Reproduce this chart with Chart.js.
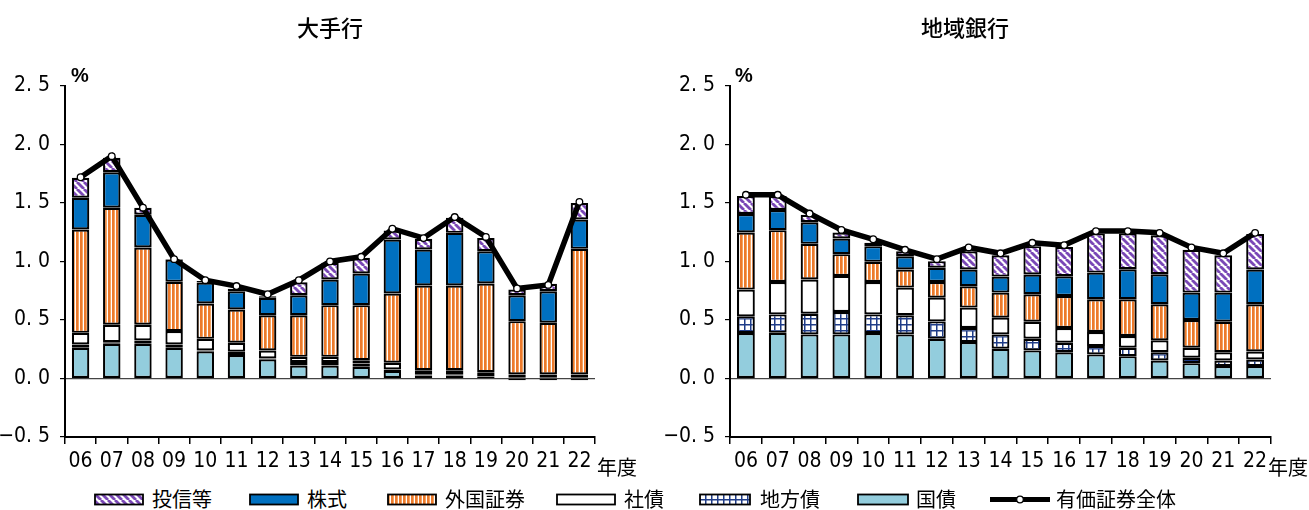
<!DOCTYPE html>
<html>
<head>
<meta charset="utf-8">
<script src="https://cdn.jsdelivr.net/npm/chart.js@4/dist/chart.umd.min.js"></script>
<style>
  body { margin: 0; background: #fff; width: 1309px; height: 510px; position: relative; overflow: hidden;
         font-family: 'Noto Sans CJK JP', sans-serif; color: #000; }
  canvas.chart { position: absolute; top: 0; }
  .title { position: absolute; top: 10px; font-size: 22px; font-weight: 500; transform: translateX(-50%); white-space: nowrap; }
  .unit { position: absolute; top: 64px; font-size: 20px; font-weight: bold; font-family: 'Liberation Sans', Arial, sans-serif; }
  .fy { position: absolute; top: 452px; font-size: 20px; }
  .leg { position: absolute; top: 486px; font-size: 20px; line-height: 26px; white-space: nowrap; }
  .sw { position: absolute; top: 493px; }
</style>
</head>
<body>
<canvas id="major" class="chart" width="650" height="480" style="left:0"></canvas>
<canvas id="regional" class="chart" width="649" height="480" style="left:660px"></canvas>
<div class="title" style="left:330px">大手行</div>
<div class="title" style="left:965px">地域銀行</div>
<div class="unit" style="left:71px">%</div>
<div class="unit" style="left:735px">%</div>
<div class="fy" style="left:597px">年度</div>
<div class="fy" style="left:1268px">年度</div>
<div id="legend"></div>

<script>
// fiscal years and axis ticks
const YEARS = ['06', '07', '08', '09', '10', '11', '12', '13', '14', '15', '16', '17', '18', '19', '20', '21', '22'];
const Y_TICKS = [-0.5, 0, 0.5, 1.0, 1.5, 2.0, 2.5];
const SERIES_NAMES = ['投信等', '株式', '外国証券', '社債', '地方債', '国債', '有価証券全体'];

// 大手行 (%)
const MAJOR_FUNDS   = [0.170, 0.123, 0.059, 0.005, 0.012, 0.022, 0.014, 0.111, 0.143, 0.134, 0.077, 0.091, 0.128, 0.112, 0.048, 0.063, 0.141];
const MAJOR_STOCKS  = [0.272, 0.304, 0.280, 0.191, 0.180, 0.155, 0.149, 0.171, 0.219, 0.270, 0.462, 0.308, 0.450, 0.276, 0.222, 0.270, 0.251];
const MAJOR_FOREIGN = [0.883, 0.999, 0.660, 0.421, 0.302, 0.285, 0.302, 0.356, 0.442, 0.470, 0.592, 0.724, 0.724, 0.758, 0.456, 0.442, 1.074];
const MAJOR_CORP    = [0.100, 0.150, 0.135, 0.115, 0.100, 0.077, 0.068, 0.045, 0.045, 0.029, 0.057, 0.034, 0.034, 0.037, 0.028, 0.028, 0.028];
const MAJOR_LOCAL   = [0.028, 0.014, 0.029, 0.028, 0.006, 0.028, 0.006, 0.029, 0.029, 0.028, 0.012, 0.012, 0.012, 0.012, 0.006, 0.006, 0.006];
const MAJOR_JGB     = [0.262, 0.296, 0.296, 0.262, 0.233, 0.200, 0.165, 0.111, 0.111, 0.100, 0.065, 0.025, 0.025, 0.005, -0.015, -0.015, -0.015];
const MAJOR_TOTAL   = [1.72, 1.90, 1.46, 1.02, 0.84, 0.79, 0.72, 0.84, 1.00, 1.04, 1.28, 1.20, 1.38, 1.21, 0.77, 0.80, 1.51];

// 地域銀行 (%)
const REGIONAL_FUNDS   = [0.154, 0.120, 0.064, 0.051, 0.029, 0.043, 0.057, 0.157, 0.183, 0.242, 0.251, 0.335, 0.306, 0.334, 0.366, 0.320, 0.303];
const REGIONAL_STOCKS  = [0.158, 0.172, 0.185, 0.134, 0.134, 0.114, 0.121, 0.143, 0.137, 0.169, 0.169, 0.228, 0.257, 0.257, 0.234, 0.249, 0.297];
const REGIONAL_FOREIGN = [0.488, 0.443, 0.305, 0.186, 0.172, 0.154, 0.134, 0.182, 0.214, 0.235, 0.274, 0.280, 0.314, 0.308, 0.237, 0.260, 0.403];
const REGIONAL_CORP    = [0.229, 0.277, 0.292, 0.309, 0.277, 0.237, 0.203, 0.175, 0.143, 0.145, 0.125, 0.120, 0.100, 0.101, 0.086, 0.071, 0.068];
const REGIONAL_LOCAL   = [0.143, 0.158, 0.177, 0.191, 0.160, 0.163, 0.148, 0.120, 0.123, 0.100, 0.081, 0.071, 0.072, 0.071, 0.046, 0.048, 0.057];
const REGIONAL_JGB     = [0.388, 0.390, 0.377, 0.377, 0.388, 0.377, 0.340, 0.311, 0.254, 0.240, 0.225, 0.206, 0.191, 0.154, 0.131, 0.106, 0.106];
const REGIONAL_TOTAL   = [1.57, 1.57, 1.41, 1.27, 1.19, 1.10, 1.02, 1.12, 1.07, 1.16, 1.14, 1.26, 1.26, 1.245, 1.12, 1.07, 1.245];

const TICK_FONT = { family: "'Liberation Sans Narrow', 'DejaVu Sans Condensed', 'Noto Sans CJK JP', sans-serif", size: 21 };

// hatch fills
function tile(w, h, draw) {
    const c = document.createElement('canvas');
    c.width = w; c.height = h;
    const g = c.getContext('2d');
    draw(g);
    return g.createPattern(c, 'repeat');
}
const FILL_FUNDS = tile(7, 7, g => {
    g.fillStyle = '#fff'; g.fillRect(0, 0, 7, 7);
    g.strokeStyle = '#7a48b6'; g.lineWidth = 2.8;
    [-7, 0, 7].forEach(k => { g.beginPath(); g.moveTo(k, 0); g.lineTo(k + 7, 7); g.stroke(); });
});
const FILL_FOREIGN = tile(4, 4, g => {
    g.fillStyle = '#f5a462'; g.fillRect(0, 0, 4, 4);
    g.fillStyle = '#ec7a2c'; g.fillRect(0, 0, 2, 4);
    g.fillStyle = '#fff'; g.fillRect(3, 0, 1, 4);
});
const FILL_LOCAL = tile(6, 6, g => {
    g.fillStyle = '#fff'; g.fillRect(0, 0, 6, 6);
    g.fillStyle = '#1f3c88'; g.fillRect(0, 0, 6, 1.5); g.fillRect(0, 0, 1.5, 6);
});
const FILLS = [FILL_FUNDS, '#0070c0', FILL_FOREIGN, '#ffffff', FILL_LOCAL, '#93cddd'];

function yLabel(v) {
    return (v < 0 ? '−' : '') + Math.abs(v).toFixed(1).replace('.', '. ');
}

function panel(id, yWidth, padRight, bars, total) {
    // bars come top-first; stack them bottom-first
    const datasets = [];
    for (let i = bars.length - 1; i >= 0; i--) {
        datasets.push({
            type: 'bar', label: SERIES_NAMES[i], data: bars[i], stack: 'parts', order: 1,
            backgroundColor: FILLS[i], borderColor: '#000', borderWidth: 2.2, borderSkipped: false,
            barPercentage: 0.56, categoryPercentage: 1.0
        });
    }
    datasets.push({
        type: 'line', label: SERIES_NAMES[6], data: total, stack: 'total', order: 0,
        borderColor: '#000', borderWidth: 5.5, tension: 0,
        pointRadius: 3.3, pointBackgroundColor: '#fff', pointBorderColor: '#000', pointBorderWidth: 1.3
    });

    return new Chart(document.getElementById(id), {
        data: { labels: YEARS, datasets },
        options: {
            responsive: false,
            animation: false,
            layout: { padding: { top: 86, right: padRight, bottom: 0, left: 0 } },
            plugins: { legend: { display: false }, tooltip: { enabled: false } },
            scales: {
                x: {
                    stacked: true,
                    offset: true,
                    grid: { offset: true, drawOnChartArea: false, color: '#000', lineWidth: 1.5, tickLength: 7 },
                    border: { color: '#000', width: 2 },
                    ticks: { color: '#000', font: TICK_FONT, padding: 5, maxRotation: 0, autoSkip: false },
                    afterFit: s => { s.height = 43; }
                },
                y: {
                    stacked: true,
                    min: Y_TICKS[0],
                    max: Y_TICKS[Y_TICKS.length - 1],
                    afterBuildTicks: s => { s.ticks = Y_TICKS.map(v => ({ value: v })); },
                    grid: {
                        color: c => (c.tick && c.tick.value === 0 ? '#444' : 'rgba(0,0,0,0)'),
                        tickColor: '#000', tickLength: 5, lineWidth: 1.2
                    },
                    border: { color: '#000', width: 2 },
                    ticks: { color: '#000', font: TICK_FONT, padding: 10, callback: yLabel },
                    afterFit: s => { s.width = yWidth; }
                }
            }
        }
    });
}

panel('major', 65, 55,
    [MAJOR_FUNDS, MAJOR_STOCKS, MAJOR_FOREIGN, MAJOR_CORP, MAJOR_LOCAL, MAJOR_JGB], MAJOR_TOTAL);
panel('regional', 70, 38,
    [REGIONAL_FUNDS, REGIONAL_STOCKS, REGIONAL_FOREIGN, REGIONAL_CORP, REGIONAL_LOCAL, REGIONAL_JGB], REGIONAL_TOTAL);

// legend row
const LEG_SWATCH_X = [94, 249, 387, 556, 699, 857, 990];
const LEG_SWATCH_W = [50, 50, 50, 60, 52, 52, 60];
const LEG_TEXT_X = [152, 307, 445, 624, 760, 916, 1056];
const legend = document.getElementById('legend');
SERIES_NAMES.forEach((name, i) => {
    const c = document.createElement('canvas');
    c.className = 'sw';
    c.width = LEG_SWATCH_W[i]; c.height = 13;
    c.style.left = LEG_SWATCH_X[i] + 'px';
    const g = c.getContext('2d');
    if (i < 6) {
        g.fillStyle = FILLS[i];
        g.fillRect(1, 1.5, c.width - 2, 10);
        g.strokeStyle = '#000'; g.lineWidth = 1.8;
        g.strokeRect(1, 1.5, c.width - 2, 10);
    } else {
        g.strokeStyle = '#000'; g.lineWidth = 5;
        g.beginPath(); g.moveTo(0, 6.5); g.lineTo(c.width, 6.5); g.stroke();
        g.fillStyle = '#fff'; g.lineWidth = 1.3;
        g.beginPath(); g.arc(c.width / 2, 6.5, 3.3, 0, Math.PI * 2); g.fill(); g.stroke();
    }
    legend.appendChild(c);
    const t = document.createElement('div');
    t.className = 'leg';
    t.style.left = LEG_TEXT_X[i] + 'px';
    t.textContent = name;
    legend.appendChild(t);
});
</script>
</body>
</html>
